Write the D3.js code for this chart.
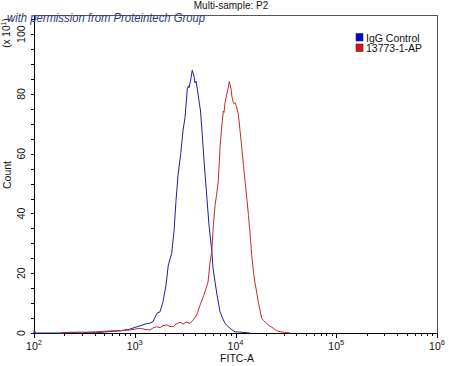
<!DOCTYPE html>
<html><head><meta charset="utf-8">
<script src="https://cdn.jsdelivr.net/npm/d3@7"></script>
<style>body{margin:0;background:#fff}svg{display:block}text{font-family:"Liberation Sans",Arial,sans-serif}</style>
</head><body><svg id="c" width="450" height="366"></svg>
<script>
const title = "Multi-sample: P2";
const watermark = "with permission from Proteintech Group";
const xLabel = "FITC-A";
const yLabel = "Count";
const yMultiplier = "(x 10";
const seriesNames = ["IgG Control", "13773-1-AP"];
const seriesColors = ["#1c1ca8", "#c42a2a"];
const legendColors = ["#0000e6", "#e01010"];
const xMajorTicks = [1e2, 1e3, 1e4, 1e5, 1e6];
const xTickExponents = ["2", "3", "4", "5", "6"];
const yLabelTicks = [0, 20, 40, 60, 80, 100];
const yMinorTicks = [0,5,10,15,20,25,30,35,40,45,50,55,60,65,70,75,80,85,90,95,100,105];

const iggFitc = [100,101,103,181,228,286,360,452,568,714,898,1029,1127,1264,1416,1518,1589,1664,1782,1906,2042,2153,2328,2456,2567,2687,2858,3013,3155,3326,3415,3453,3573,3723,3871,3961,4053,4177,4342,4495,4650,4870,5179,5460,5808,5984,6266,6561,7021,7434,7872,8433,8818,9444,9890,11093,11868,13921];
const iggCount = [0,1.1,0,0,0.2,0,0.3,0.2,0.5,0.7,1.3,2,2.4,3,3.3,3.8,5.3,6.6,7.1,10.4,16,22.7,26.7,34.3,44.3,52.7,60,67.7,72.1,81.7,82.7,82.1,84.3,87.9,86,83.7,84.3,81.7,77.7,74.3,67.7,57.7,46,36,27.7,21.7,17,12.7,7.1,5,3.2,2.2,1.6,0.8,0.4,0.3,0.2,0];

const apFitc = [181,228,286,360,452,568,714,898,1127,1264,1416,1518,1652,1782,1906,2075,2239,2414,2567,2812,3013,3227,3534,3785,4120,4446,4650,4977,5334,5588,5808,6030,6266,6478,6752,7021,7268,7575,7692,7872,8185,8433,8676,9021,9230,9506,9656,9890,10237,10670,11093,11535,12010,12420,12914,13459,13921,14486,15088,15620,16220,16900,17500,18200,18880,19630,20400,22000,23740,25500,27660,31000,34750];
const apCount = [0,0.2,0.3,0.2,0.5,0.7,0.8,1,1.6,1.2,1,1.7,2.1,1.8,2.5,2.7,2.2,2.1,3,3.6,3,3.7,3.2,4.3,6,9.3,11,13.8,17,23.7,27.1,36,42.7,46,51,62.1,68.3,74.3,73.8,77,79.9,81.7,84.1,81.7,79,77.1,76.7,77.1,75.7,73.2,67.7,62.1,56,51,45.4,39.3,33.7,26,20.3,16.7,13.7,10,7.7,4.9,4.3,3.7,3.2,2.3,1.6,0.8,0.4,0.2,0];

const svg = d3.select("#c");
const L = 34, R = 437, T = 15, B = 333;
const x = d3.scaleLog().domain([1e2, 1e6]).range([L, R]);
const y = d3.scaleLinear().domain([0, 106.4]).range([B, T]);

// frame
svg.append("rect").attr("x", L).attr("y", T).attr("width", R - L).attr("height", B - T)
  .attr("fill", "none").attr("stroke", "#555").attr("stroke-width", 1).attr("shape-rendering", "crispEdges");

// x minor ticks
const xMinor = [];
for (let e = 2; e < 6; e++) for (let m = 2; m <= 9; m++) xMinor.push(m * Math.pow(10, e));
const gx = svg.append("g").attr("transform", `translate(0,${B})`);
gx.call(d3.axisBottom(x).tickValues(xMinor).tickSize(3).tickFormat(""));
gx.call(g => g.select(".domain").remove());
const gx2 = svg.append("g").attr("transform", `translate(0,${B})`);
gx2.call(d3.axisBottom(x).tickValues(xMajorTicks).tickSize(5).tickFormat("").tickSizeOuter(0));
svg.selectAll("g .domain").attr("stroke", "#000");
svg.selectAll("g .tick line").attr("stroke", "#000").attr("shape-rendering", "crispEdges");

xMajorTicks.forEach((v, i) => {
  const t = svg.append("text").attr("x", x(v)).attr("y", 350).attr("text-anchor", "middle")
    .attr("font-size", 10.5).attr("fill", "#111");
  t.append("tspan").text("10");
  t.append("tspan").attr("dy", -5).attr("font-size", 7.5).text(xTickExponents[i]);
});

// y axis
const gy = svg.append("g").attr("transform", `translate(${L},0)`);
gy.call(d3.axisLeft(y).tickValues(yMinorTicks).tickSize(3).tickFormat("").tickSizeOuter(0));
gy.select(".domain").attr("stroke", "#000");
gy.selectAll(".tick line").attr("stroke", "#000").attr("shape-rendering", "crispEdges");
yLabelTicks.forEach(v => {
  svg.append("text").attr("transform", `translate(25,${y(v)}) rotate(-90)`)
    .attr("text-anchor", "middle").attr("font-size", 10.5).attr("fill", "#111").text(v);
});

// curves
const line = d3.line().x(d => x(d[0])).y(d => y(d[1]));
const series = [d3.zip(iggFitc, iggCount), d3.zip(apFitc, apCount)];
series.forEach((s, i) => {
  svg.append("path").datum(s).attr("d", line).attr("fill", "none")
    .attr("stroke", seriesColors[i]).attr("stroke-width", 1);
});

// labels
svg.append("text").attr("x", 231).attr("y", 9).attr("text-anchor", "middle")
  .attr("font-size", 10).attr("fill", "#111").text(title);
svg.append("text").attr("x", 237).attr("y", 362).attr("text-anchor", "middle")
  .attr("font-size", 10.5).attr("fill", "#111").text(xLabel);
svg.append("text").attr("transform", "translate(11,175) rotate(-90)").attr("text-anchor", "middle")
  .attr("font-size", 10.5).attr("fill", "#111").text(yLabel);
const ym = svg.append("text").attr("transform", "translate(10,33) rotate(-90)").attr("text-anchor", "middle")
  .attr("font-size", 10).attr("fill", "#111");
ym.append("tspan").text(yMultiplier);
ym.append("tspan").attr("dy", -4).attr("font-size", 7).text("1");
ym.append("tspan").attr("dy", 4).text(")");

svg.append("text").attr("x", 7).attr("y", 22).attr("font-family", "'Liberation Serif', serif")
  .attr("font-style", "italic").attr("font-size", 12).attr("fill", "#2e3a78")
  .attr("textLength", 198).attr("lengthAdjust", "spacingAndGlyphs").text(watermark);

// legend
seriesNames.forEach((n, i) => {
  svg.append("rect").attr("x", 356).attr("y", 33.5 + i * 10.5).attr("width", 7).attr("height", 7.5)
    .attr("fill", legendColors[i]).attr("stroke", "#333").attr("stroke-width", 0.6);
  svg.append("text").attr("x", 366).attr("y", 41.5 + i * 10.5).attr("font-size", 10.5)
    .attr("fill", "#111").text(n);
});
</script></body></html>
